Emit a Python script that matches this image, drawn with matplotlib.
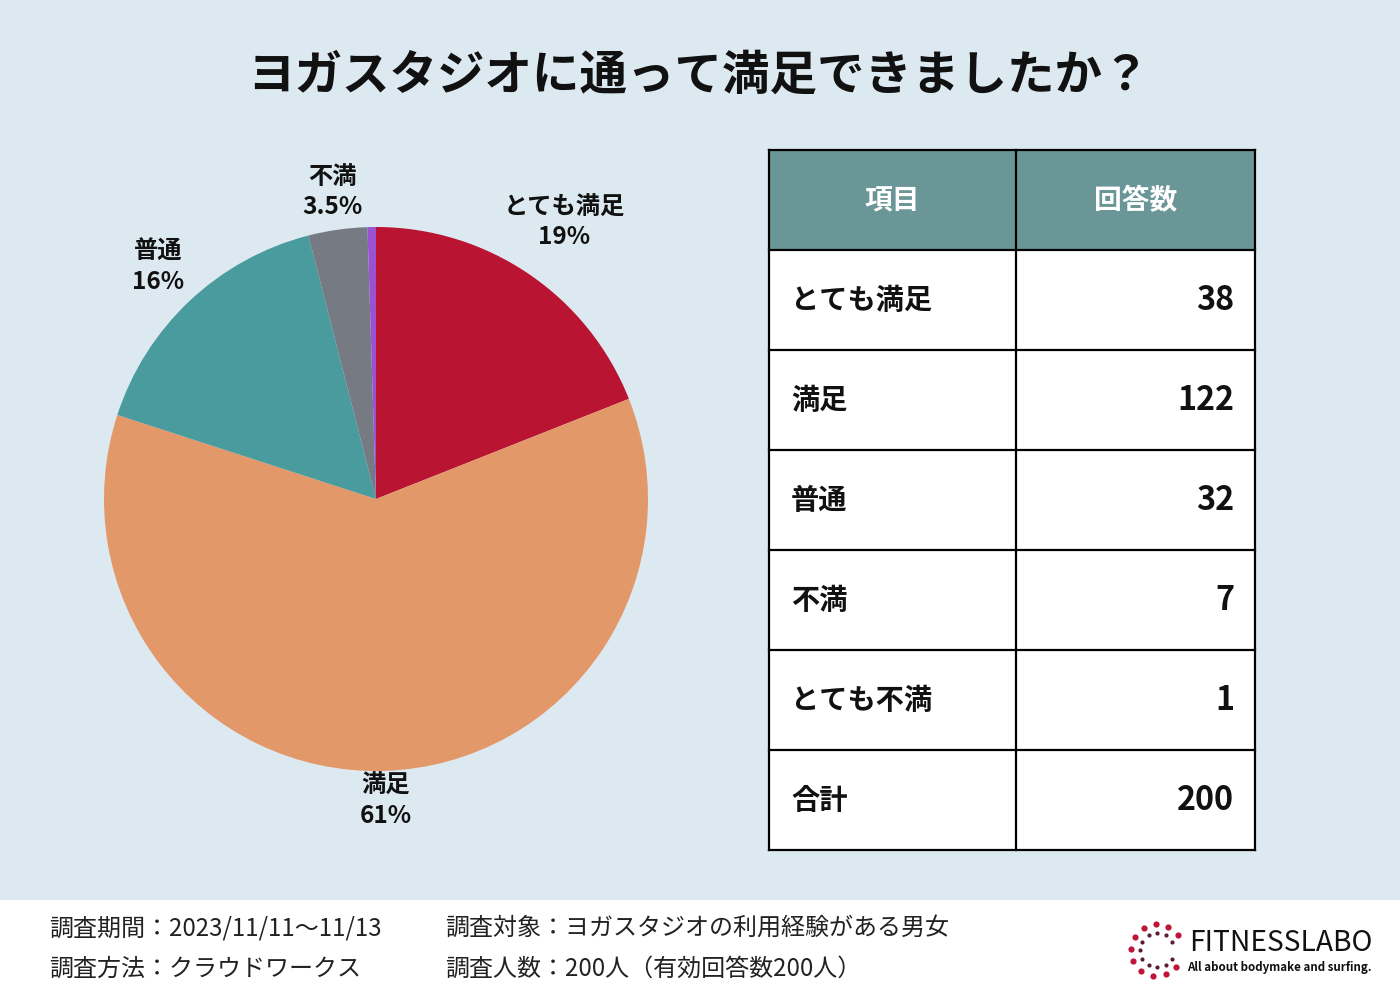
import numpy as np
import matplotlib.pyplot as plt
from matplotlib.patches import Rectangle

plt.rcParams['font.family'] = ['Noto Sans CJK JP', 'DejaVu Sans']

TITLE = "ヨガスタジオに通って満足できましたか？"
categories = ["とても満足", "満足", "普通", "不満", "とても不満"]
counts = [38, 122, 32, 7, 1]
pct_labels = ["19%", "61%", "16%", "3.5%", ""]
table_header = ["項目", "回答数"]
total_label = "合計"
total = 200
footer_left = ["調査期間：2023/11/11〜11/13", "調査方法：クラウドワークス"]
footer_right = ["調査対象：ヨガスタジオの利用経験がある男女", "調査人数：200人（有効回答数200人）"]

colors = ["#b91431", "#e3986a", "#4a9b9d", "#767b83", "#9b52d2"]
label_radius = [1.23, 1.11, 1.17, 1.14, None]
BG = "#dde9f1"
HEAD = "#6a9697"

fig = plt.figure(figsize=(14, 10), dpi=100, facecolor=BG)

# full-figure overlay in pixel coordinates
ov = fig.add_axes([0, 0, 1, 1])
ov.set_xlim(0, 1400)
ov.set_ylim(1000, 0)
ov.axis('off')
ov.add_patch(Rectangle((0, 900), 1400, 100, facecolor="white", edgecolor="none"))

ov.text(698, 76, TITLE, ha='center', va='center', fontsize=34.2, fontweight='bold', color='#111111')

# pie: centre (376, 499) px, radius 272 px
half = 400
ax = fig.add_axes([(376 - half) / 1400, (1000 - 499 - half) / 1000, 2 * half / 1400, 2 * half / 1000])
wedges, _ = ax.pie(counts, colors=colors, startangle=90, counterclock=False, radius=1,
                   wedgeprops=dict(linewidth=0))
lim = half / 272
ax.set_xlim(-lim, lim)
ax.set_ylim(-lim, lim)
ax.set_aspect('equal')
ax.axis('off')
for w, cat, pct, r in zip(wedges, categories, pct_labels, label_radius):
    if r is None:
        continue
    mid = np.deg2rad((w.theta1 + w.theta2) / 2)
    ax.text(r * np.cos(mid), r * np.sin(mid), f"{cat}\n{pct}", ha='center', va='center',
            fontsize=17.5, fontweight='bold', color='#111111', linespacing=1.3)

# table
x0, x1, x2 = 769, 1016, 1255
top, row_h = 150, 100
rows = list(zip(categories, counts)) + [(total_label, total)]
ov.add_patch(Rectangle((x0, top), x2 - x0, row_h, facecolor=HEAD, edgecolor='none'))
ov.add_patch(Rectangle((x0, top + row_h), x2 - x0, row_h * len(rows), facecolor='white', edgecolor='none'))
for i in range(len(rows) + 2):
    ov.plot([x0, x2], [top + i * row_h, top + i * row_h], color='black', lw=1.6, solid_capstyle='projecting')
for x in (x0, x1, x2):
    ov.plot([x, x], [top, top + row_h * (len(rows) + 1)], color='black', lw=1.6, solid_capstyle='projecting')
ov.text((x0 + x1) / 2, top + row_h / 2 + 1, table_header[0], ha='center', va='center',
        fontsize=20, fontweight='bold', color='white')
ov.text((x1 + x2) / 2, top + row_h / 2 + 1, table_header[1], ha='center', va='center',
        fontsize=20, fontweight='bold', color='white')
for i, (name, val) in enumerate(rows):
    yc = top + row_h * (i + 1.5) + 1
    ov.text(791, yc, name, ha='left', va='center', fontsize=20.3, fontweight='bold', color='#111111')
    ov.text(1234, yc, f"{val}", ha='right', va='center', fontsize=23.3, fontweight='semibold', color='#111111')

# footer
for j, (left, right) in enumerate(zip(footer_left, footer_right)):
    y = 928 + 41 * j
    ov.text(49, y, left, ha='left', va='center', fontsize=17.3, color='#222222')
    ov.text(445, y, right, ha='left', va='center', fontsize=17.3, color='#222222')

# logo
cx, cy = 1157, 950
ang_o = np.deg2rad(np.linspace(36, 318, 11))
ang_i = np.deg2rad(np.linspace(30, 330, 11))
ov.scatter(cx + 26 * np.cos(ang_o), cy - 26 * np.sin(ang_o), s=20, color='#c0143a', lw=0)
ov.scatter(cx + 17 * np.cos(ang_i), cy - 17 * np.sin(ang_i), s=9, color='#5c1a35', lw=0)
ov.text(1189, 943, "FITNESSLABO", ha='left', va='center', fontsize=20.3, color='#111111')
ov.text(1187, 967, "All about bodymake and surfing.", ha='left', va='center', fontsize=8.3,
        fontweight='bold', color='#111111')

fig.savefig("out.png", dpi=100, facecolor=BG)
